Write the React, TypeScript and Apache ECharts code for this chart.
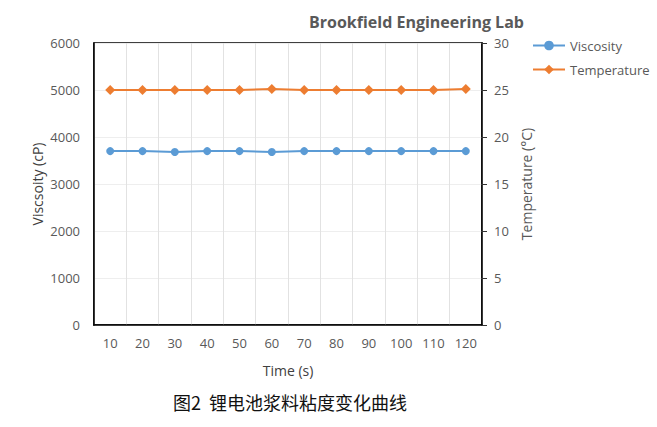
import React, { useEffect, useRef } from "react";
import * as echarts from "echarts";

const timeLabels = ["10", "20", "30", "40", "50", "60", "70", "80", "90", "100", "110", "120"];
const viscosity = [3700, 3700, 3680, 3700, 3700, 3680, 3700, 3700, 3700, 3700, 3700, 3700];
const temperature = [25, 25, 25, 25, 25, 25.1, 25, 25, 25, 25, 25, 25.1];

const FONT = "'Open Sans', 'Noto Sans', sans-serif";
const GRAY = "#595959";

export default function App() {
  const ref = useRef<HTMLDivElement>(null);
  useEffect(() => {
    if (!ref.current) return;
    const chart = echarts.init(ref.current, null, { renderer: "svg" });
    chart.setOption({
      animation: false,
      backgroundColor: "#fff",
      title: {
        text: "Brookfield Engineering Lab",
        left: 304,
        top: 9,
        textStyle: { fontFamily: FONT, fontWeight: "bold", fontSize: 16, color: GRAY },
      },
      legend: {
        orient: "vertical",
        left: 527,
        top: 34,
        itemGap: 11,
        itemWidth: 32,
        itemHeight: 12,
        textStyle: { fontFamily: FONT, fontSize: 13, color: GRAY },
        data: ["Viscosity", "Temperature"],
      },
      grid: {
        left: 94,
        right: 175,
        top: 43,
        bottom: 102,
        show: true,
        borderColor: "#000",
        borderWidth: 1.5,
      },
      xAxis: {
        type: "category",
        data: timeLabels,
        boundaryGap: true,
        name: "Time (s)",
        nameLocation: "middle",
        nameGap: 38,
        nameTextStyle: { fontFamily: FONT, fontSize: 14, color: "#404040" },
        axisLine: { show: true, lineStyle: { color: "#000", width: 1.5 } },
        axisTick: { show: false },
        axisLabel: { fontFamily: FONT, fontSize: 13, color: GRAY, margin: 11 },
        splitLine: { show: true, lineStyle: { color: "#e2e2e2", width: 1 } },
      },
      yAxis: [
        {
          type: "value",
          min: 0,
          max: 6000,
          interval: 1000,
          name: "Viscsoity (cP)",
          nameLocation: "middle",
          nameGap: 50,
          nameMoveOverlap: false,
          nameTextStyle: { fontFamily: FONT, fontSize: 14, color: "#404040" },
          axisLine: { show: true, lineStyle: { color: "#000", width: 1.5 } },
          axisTick: { show: false },
          axisLabel: {
            fontFamily: FONT,
            fontSize: 13,
            color: GRAY,
            margin: 14,
            formatter: (v: number) => String(v),
          },
          splitLine: { show: true, lineStyle: { color: "#eeeeee", width: 1 } },
        },
        {
          type: "value",
          min: 0,
          max: 30,
          interval: 5,
          name: "Temperature (°C)",
          nameLocation: "middle",
          nameGap: 37,
          nameRotate: 90,
          nameTextStyle: { fontFamily: FONT, fontSize: 14, color: GRAY },
          axisLine: { show: true, lineStyle: { color: "#000", width: 1.5 } },
          axisTick: { show: true, length: 5, inside: false, lineStyle: { color: "#333" } },
          axisLabel: { fontFamily: FONT, fontSize: 13, color: GRAY, margin: 12 },
          splitLine: { show: false },
        },
      ],
      series: [
        {
          name: "Viscosity",
          type: "line",
          yAxisIndex: 0,
          data: viscosity,
          symbol: "circle",
          symbolSize: 8,
          color: "#5B9BD5",
          lineStyle: { width: 2, color: "#5B9BD5" },
          itemStyle: { color: "#5B9BD5" },
        },
        {
          name: "Temperature",
          type: "line",
          yAxisIndex: 1,
          data: temperature,
          symbol: "diamond",
          symbolSize: 10,
          color: "#ED7D31",
          lineStyle: { width: 2, color: "#ED7D31" },
          itemStyle: { color: "#ED7D31" },
        },
      ],
      graphic: [
        {
          type: "text",
          left: 173,
          top: 393,
          style: {
            text: "图2  锂电池浆料粘度变化曲线",
            font: "18px 'Noto Sans CJK SC', sans-serif",
            fill: "#111",
          },
        },
      ],
    });
    return () => chart.dispose();
  }, []);
  return <div ref={ref} style={{ width: 657, height: 427, position: "absolute", left: 0, top: 0 }} />;
}
